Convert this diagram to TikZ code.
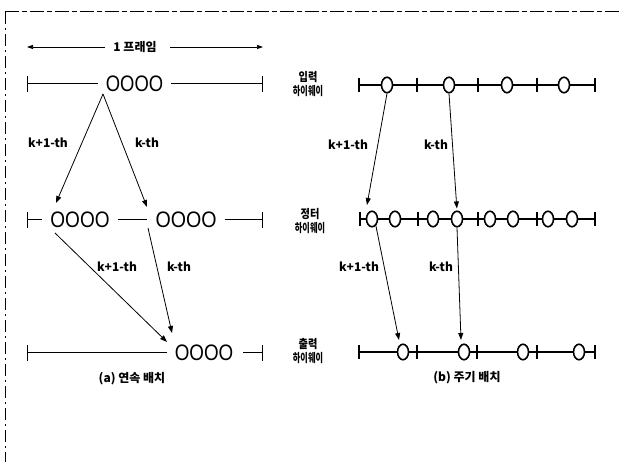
\documentclass[tikz,border=0pt]{standalone}
\usepackage{fontspec}
\setmainfont{Noto Sans CJK KR}
\newfontfamily\latinO{Liberation Sans}
\usetikzlibrary{arrows.meta,shapes.geometric}
\newcommand{\hwtext}[2]{\scalebox{0.85}[1]{#1}\\\scalebox{0.68}[1]{#2}}
\begin{document}
\begin{tikzpicture}[x=1pt,y=-1pt,
  lbl/.style={font=\fontsize{12}{12}\selectfont\bfseries, inner sep=0pt},
  hw/.style={font=\fontsize{12}{14}\selectfont\bfseries, align=center, inner sep=0pt},
  oooo/.style={inner xsep=8pt, inner ysep=0pt, font=\latinO\fontsize{20}{20}\selectfont},
  thinln/.style={line width=1pt},
  thickln/.style={line width=1.3pt},
  ring/.style={ellipse, draw, line width=1.6pt, fill=white, minimum width=11pt, minimum height=15.5pt, inner sep=0pt},
  arr/.style={line width=0.8pt, -{Triangle[length=7pt,width=5pt]}},
  frame/.style={line width=1pt, dash pattern=on 14pt off 3pt on 5pt off 3pt},
]
\useasboundingbox (0,0) rectangle (619,462);
% border
\coordinate (c0) at (5,12); \coordinate (c1) at (619,12); \coordinate (c2) at (5,462);
\draw[frame] (c0) -- (c1);
\draw[line width=0.9pt, dash pattern=on 12pt off 4pt on 2pt off 4pt] (c0) -- (c2);

% ---------- (a) ----------
\node[lbl] (frm) at (135,47) {1 프래임};
\coordinate (fl) at (27,47); \coordinate (fr) at (263,47);
\coordinate (fl2) at (105,47); \coordinate (fr2) at (170,47);
\draw[line width=0.7pt, -{Triangle[length=6pt,width=4pt]}] (fl2) -- (fl);
\draw[line width=0.7pt, -{Triangle[length=6pt,width=4pt]}] (fr2) -- (fr);

\coordinate (a1L) at (27,84); \coordinate (a1R) at (262,84);
\node[oooo] (a1) at (134.5,84) {\scalebox{0.92}[1.12]{OOOO}};
\draw[thinln] (a1L) -- (a1.west) (a1.east) -- (a1R);

\coordinate (a2L) at (27,220); \coordinate (a2R) at (262,220);
\node[oooo] (a2a) at (80,220) {\scalebox{0.95}[1.12]{OOOO}};
\node[oooo] (a2b) at (186,220) {\scalebox{0.98}[1.12]{OOOO}};
\draw[thinln] (a2L) -- (a2a.west) (a2a.east) -- (a2b.west) (a2b.east) -- (a2R);

\coordinate (a3L) at (27,353); \coordinate (a3R) at (262,353);
\node[oooo] (a3) at (204,353) {\scalebox{0.94}[1.12]{OOOO}};
\draw[thinln] (a3L) -- (a3.west);
\draw[thinln] ([xshift=2pt]a3.east) -- (a3R);

\foreach \c in {a1L,a1R,a2L,a2R,a3L,a3R}
  \draw[thinln] ([yshift=-8pt]\c) -- ([yshift=8pt]\c);

\coordinate (apx) at (103,94);
\coordinate (t1) at (56,203); \coordinate (t2) at (147,207);
\draw[arr] (apx) -- (t1);
\draw[arr] (apx) -- (t2);
\coordinate (s3) at (55,233); \coordinate (t3) at (167,342);
\coordinate (s4) at (148,228); \coordinate (t4) at (172,333);
\draw[arr] (s3) -- (t3);
\draw[arr] (s4) -- (t4);

\node[lbl] (la1) at (48,143) {k+1-th};
\node[lbl] (la2) at (147,143) {k-th};
\node[lbl] (la3) at (117,267) {k+1-th};
\node[lbl] (la4) at (179,267) {k-th};
\node[lbl] (capa) at (132,379) {(a) 연속 배치};

% ---------- (b) ----------
\node[hw] (h1) at (308,84) {\hwtext{입력}{하이웨이}};
\node[hw] (h2) at (310,221) {\hwtext{정터}{하이웨이}};
\node[hw] (h3) at (308,351) {\hwtext{출력}{하이웨이}};

\coordinate (b1L) at (359,85); \coordinate (b1R) at (595,85);
\draw[thickln] (b1L) -- (b1R);
\foreach \x in {359,417,478,537,595}
  \draw[thickln] (\x,78) -- (\x,92);
\foreach \x/\n in {387/1,449/2,507/3,564/4}
  \node[ring] (e1\n) at (\x,85) {};

\coordinate (b2L) at (360,219); \coordinate (b2R) at (595,219);
\draw[thickln] (b2L) -- (b2R);
\foreach \x in {360,418,478,537,595}
  \draw[thickln] (\x,212) -- (\x,226);
\foreach \x/\n in {372/1,395/2,433/3,457/4,490/5,513/6,548/7,572/8}
  \node[ring] (e2\n) at (\x,219) {};

\coordinate (b3L) at (359,352); \coordinate (b3R) at (595,352);
\draw[thickln] (b3L) -- (b3R);
\foreach \x in {359,417,477,537,595}
  \draw[thickln] (\x,345) -- (\x,359);
\foreach \x/\n in {403/1,464/2,523/3,579/4}
  \node[ring] (e3\n) at (\x,352) {};

\coordinate (r1) at (367,205);
\coordinate (r3) at (399,340);
\coordinate (r4) at (461,340);
\draw[arr] (e11.south) -- (r1);
\draw[arr, shorten >=2pt] (e12.south) -- (e24.north);
\draw[arr] (e21.-60) -- (r3);
\draw[arr] (e24.south) -- (r4);

\node[lbl] (lb1) at (348,145) {k+1-th};
\node[lbl] (lb2) at (436,145) {k-th};
\node[lbl] (lb3) at (359,267) {k+1-th};
\node[lbl] (lb4) at (441,267) {k-th};
\node[lbl] (capb) at (467,378) {(b) 주기 배치};
\end{tikzpicture}
\end{document}
